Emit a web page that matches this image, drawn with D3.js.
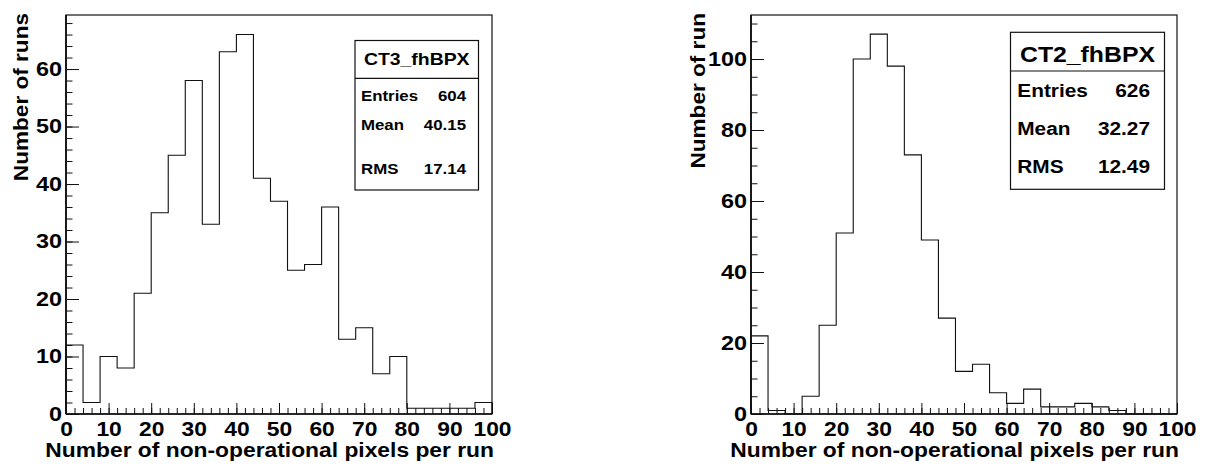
<!DOCTYPE html>
<html>
<head>
<meta charset="utf-8">
<script src="https://cdn.jsdelivr.net/npm/d3@7"></script>
<style>
  html, body { margin: 0; padding: 0; background: #fff; }
  svg { display: block; }
  svg text { font-family: "Liberation Sans", Arial, Helvetica, sans-serif; font-weight: 700; fill: #000; }
</style>
</head>
<body>
<svg id="chart" width="1205" height="468"></svg>
<script>
// ---- data ----
const binLowEdges = [0,4,8,12,16,20,24,28,32,36,40,44,48,52,56,60,64,68,72,76,80,84,88,92,96];
const binUpperEdge = 100;
const ct3Counts = [12,2,10,8,21,35,45,58,33,63,66,41,37,25,26,36,13,15,7,10,1,1,1,1,2];
const ct2Counts = [22,1,0,5,25,51,100,107,98,73,49,27,12,14,6,3,7,2,2,3,2,1,0,0,0];
const xTickValues = [0,10,20,30,40,50,60,70,80,90,100];
const ct3YTicks = [0,10,20,30,40,50,60];
const ct2YTicks = [0,20,40,60,80,100];
const ct3Stats = [["Entries","604"],["Mean","40.15"],["RMS","17.14"]];
const ct2Stats = [["Entries","626"],["Mean","32.27"],["RMS","12.49"]];
const xTitle = "Number of non-operational pixels per run";

const SX = 1.17; // horizontal stretch of text glyphs in the reference
const svg = d3.select("#chart");

function stretch(sel, sx) {
  sel.each(function() {
    const t = d3.select(this);
    const x = +(t.attr("x") || 0);
    t.attr("transform", `translate(${x},0) scale(${sx},1) translate(${-x},0)`);
  });
}

function drawPanel(cfg) {
  const x = d3.scaleLinear().domain([0, binUpperEdge]).range([cfg.left, cfg.right]);
  const y = d3.scaleLinear().domain([0, cfg.yMax]).range([cfg.bottom, cfg.top]);
  const g = svg.append("g");

  // histogram outline
  const pts = [[0,0]];
  cfg.counts.forEach((c,i) => pts.push([binLowEdges[i], c]));
  pts.push([binUpperEdge, cfg.counts[cfg.counts.length-1]]);
  pts.push([binUpperEdge, 0]);
  const line = d3.line().x(d => x(d[0])).y(d => y(d[1])).curve(d3.curveStepAfter);
  g.append("path").attr("d", line(pts)).attr("fill", "none")
    .attr("stroke", "#111").attr("stroke-width", 1.1);

  // x minor ticks
  const xMinor = d3.range(0, 101, 2);
  g.append("g").attr("transform", `translate(0,${cfg.bottom})`)
    .call(d3.axisBottom(x).tickValues(xMinor).tickSizeInner(-6).tickSizeOuter(0).tickFormat(""))
    .call(s => s.select(".domain").remove())
    .selectAll("line").attr("stroke", "#111");
  // x major
  const gx = g.append("g").attr("transform", `translate(0,${cfg.bottom})`)
    .call(d3.axisBottom(x).tickValues(xTickValues).tickSizeInner(-11).tickSizeOuter(0).tickPadding(8.5));
  gx.attr("font-family", null).attr("font-size", null);
  gx.select(".domain").remove();
  gx.selectAll("line").attr("stroke", "#111");
  gx.selectAll("text").style("font-size", "19.5px").style("font-weight", "700").attr("fill", "#000");
  stretch(gx.selectAll("text"), SX);

  // y minor
  const yMinor = d3.range(0, cfg.yMax, cfg.yMinorStep);
  g.append("g").attr("transform", `translate(${cfg.left},0)`)
    .call(d3.axisLeft(y).tickValues(yMinor).tickSizeInner(-6.5).tickSizeOuter(0).tickFormat(""))
    .call(s => s.select(".domain").remove())
    .selectAll("line").attr("stroke", "#111");
  const gy = g.append("g").attr("transform", `translate(${cfg.left},0)`)
    .call(d3.axisLeft(y).tickValues(cfg.yTicks).tickSizeInner(-13).tickSizeOuter(0).tickPadding(4));
  gy.attr("font-family", null).attr("font-size", null);
  gy.select(".domain").remove();
  gy.selectAll("line").attr("stroke", "#111");
  gy.selectAll("text").style("font-size", "20px").style("font-weight", "700").attr("fill", "#000");
  stretch(gy.selectAll("text"), SX);

  // frame
  g.append("rect").attr("x", cfg.left).attr("y", cfg.top)
    .attr("width", cfg.right - cfg.left).attr("height", cfg.bottom - cfg.top)
    .attr("fill", "none").attr("stroke", "#111").attr("stroke-width", 1.2);
  g.append("line").attr("x1", cfg.left).attr("x2", cfg.left).attr("y1", cfg.top).attr("y2", cfg.bottom)
    .attr("stroke", "#111").attr("stroke-width", 1.8);
  g.append("line").attr("x1", cfg.left).attr("x2", cfg.right).attr("y1", cfg.bottom).attr("y2", cfg.bottom)
    .attr("stroke", "#111").attr("stroke-width", 1.6);

  // axis titles
  const xt = g.append("text").attr("x", cfg.right + 2).attr("y", 457.5).attr("text-anchor", "end")
    .style("font-size", "19.5px").text(xTitle);
  stretch(xt, SX);
  g.append("text").attr("transform", `translate(${cfg.yTitleX},13) rotate(-90) scale(1,0.9)`)
    .attr("text-anchor", "end").style("font-size", "22.6px").text(cfg.yTitle);

  // stats box
  const b = cfg.box;
  g.append("rect").attr("x", b.x0).attr("y", b.y0).attr("width", b.x1 - b.x0).attr("height", b.y1 - b.y0)
    .attr("fill", "#fff").attr("stroke", "#111").attr("stroke-width", 1.2);
  g.append("line").attr("x1", b.x0).attr("x2", b.x1).attr("y1", b.hLine).attr("y2", b.hLine)
    .attr("stroke", "#111").attr("stroke-width", 1.2);
  const tt = g.append("text").attr("x", (b.x0 + b.x1) / 2).attr("y", b.titleY).attr("text-anchor", "middle")
    .style("font-size", b.titleSize + "px").text(cfg.name);
  stretch(tt, SX);
  cfg.stats.forEach((s, i) => {
    const l = g.append("text").attr("x", b.labelX).attr("y", b.rowY[i]).style("font-size", b.rowSize + "px").text(s[0]);
    const v = g.append("text").attr("x", b.valueX).attr("y", b.rowY[i]).attr("text-anchor", "end")
      .style("font-size", b.rowSize + "px").text(s[1]);
    stretch(l, SX); stretch(v, SX);
  });
}

drawPanel({
  name: "CT3_fhBPX", counts: ct3Counts, stats: ct3Stats,
  left: 66, right: 492, top: 15, bottom: 414, yMax: 69.4,
  yTicks: ct3YTicks, yMinorStep: 2, yTitle: "Number of runs", yTitleX: 27.5,
  box: { x0: 355, x1: 478.5, y0: 40.5, y1: 190, hLine: 78.3, titleY: 65.5, titleSize: 16.6,
         labelX: 361, valueX: 466, rowY: [100.7, 130, 174.3], rowSize: 14.4 }
});
drawPanel({
  name: "CT2_fhBPX", counts: ct2Counts, stats: ct2Stats,
  left: 751, right: 1177, top: 15, bottom: 414, yMax: 112.4,
  yTicks: ct2YTicks, yMinorStep: 5, yTitle: "Number of run", yTitleX: 705,
  box: { x0: 1010.5, x1: 1164.5, y0: 32.3, y1: 189.3, hLine: 71, titleY: 62, titleSize: 21.2,
         labelX: 1017.3, valueX: 1150, rowY: [96.7, 135, 173.3], rowSize: 17.8 }
});
</script>
</body>
</html>
